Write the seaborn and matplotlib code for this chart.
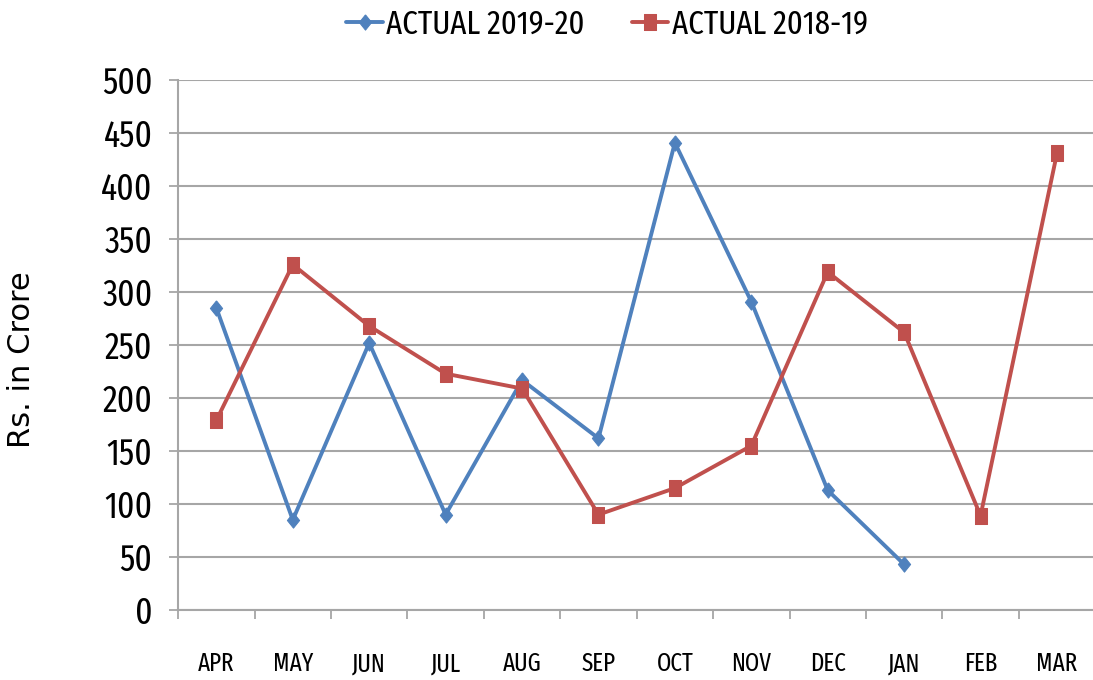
import matplotlib
matplotlib.use("Agg")
import matplotlib.pyplot as plt
from matplotlib import font_manager
import seaborn as sns
import pandas as pd
import numpy as np

months = ["APR", "MAY", "JUN", "JUL", "AUG", "SEP", "OCT", "NOV", "DEC", "JAN", "FEB", "MAR"]
actual_2019_20 = [285, 85, 252, 90, 217, 162, 441, 291, 113, 43]
actual_2018_19 = [179, 326, 268, 223, 209, 90, 115, 155, 319, 262, 89, 431]
y_ticks = [0, 50, 100, 150, 200, 250, 300, 350, 400, 450, 500]

sns.set_theme(style="white")
names = {f.name for f in font_manager.fontManager.ttflist}
cond = "DejaVu Sans"
for cand in ["Fira Sans Extra Condensed", "Barlow Condensed", "Archivo Narrow"]:
    if cand in names:
        cond = cand
        break
plt.rcParams["font.family"] = [cond, "DejaVu Sans"]

df_a = pd.DataFrame({"x": np.arange(len(actual_2019_20)), "y": actual_2019_20})
df_b = pd.DataFrame({"x": np.arange(len(actual_2018_19)), "y": actual_2018_19})

fig = plt.figure(figsize=(10.93, 6.8), dpi=100)
ax = fig.add_axes([0.163, 0.103, 0.839, 0.779])

blue = "#4F81BD"
red = "#C0504D"
diamond = [(0, 1), (0.8, 0), (0, -1), (-0.8, 0), (0, 1)]
rect = [(-0.72, -1), (0.72, -1), (0.72, 1), (-0.72, 1), (-0.72, -1)]
sns.lineplot(data=df_a, x="x", y="y", ax=ax, color=blue, lw=2.8, marker=diamond,
             markersize=11, markeredgecolor=blue, label="ACTUAL 2019-20")
sns.lineplot(data=df_b, x="x", y="y", ax=ax, color=red, lw=2.8, marker=rect,
             markersize=12, markeredgecolor=red, label="ACTUAL 2018-19")

ax.set_xlim(-0.5, len(months) - 0.5)
ax.set_ylim(0, 500)
ax.set_yticks(y_ticks)
ax.set_yticklabels([str(v) for v in y_ticks], fontsize=26)
ax.yaxis.grid(True, color="#A6A6A6", lw=1.5)
ax.set_axisbelow(True)

ax.set_xticks(np.arange(len(months)))
ax.set_xticklabels(months, fontsize=18)
ax.set_xticks(np.arange(len(months) + 1) - 0.5, minor=True)
ax.tick_params(axis="x", which="major", length=0, pad=30)
ax.tick_params(axis="x", which="minor", length=6.5, width=1.3, color="#A6A6A6", bottom=True)
ax.tick_params(axis="y", which="major", length=6.5, width=1.3, color="#A6A6A6", left=True, pad=12)

for s in ["top", "right"]:
    ax.spines[s].set_visible(False)
for s in ["left", "bottom"]:
    ax.spines[s].set_color("#A6A6A6")
    ax.spines[s].set_linewidth(1.5)

ax.set_xlabel("")
ax.set_ylabel("")
fig.text(22 / 1093, 1 - 360 / 680, "Rs. in Crore", rotation=90, ha="center", va="center",
         fontsize=22, family="DejaVu Sans", color="black")

leg = ax.legend(loc="center", bbox_to_anchor=(607 / 1093, 1 - 24 / 680),
                bbox_transform=fig.transFigure, ncol=2, frameon=False,
                fontsize=24, handlelength=1.1, handletextpad=0.1, columnspacing=1.4)
for t in leg.get_texts():
    t.set_color("black")
for t in ax.get_yticklabels() + ax.get_xticklabels():
    t.set_color("black")

fig.savefig("out.png", dpi=100)
